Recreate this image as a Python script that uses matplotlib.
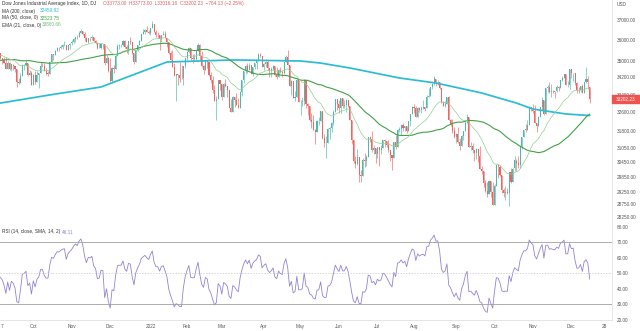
import numpy as np
import pandas as pd
import matplotlib
matplotlib.use("Agg")
import matplotlib.pyplot as plt
from matplotlib.patches import Rectangle

plt.rcParams['font.family'] = ['Liberation Sans', 'DejaVu Sans']

# trading calendar (NYSE holidays inside the window)
holidays = ['2021-11-25', '2021-12-24', '2022-01-17', '2022-02-21', '2022-04-15',
            '2022-05-30', '2022-06-20', '2022-07-04', '2022-09-05', '2022-11-24',
            '2022-12-26']
dates = pd.bdate_range('2021-09-07', '2022-12-30', freq='C', holidays=holidays)

# closes before the visible window, only used to warm up the indicators
warmup_close = [
    34394, 34300, 34034, 33823, 33290, 33877, 33946, 33874, 34196, 34434, 34283, 34292, 34503,
    34633, 34786, 34577, 34681, 34421, 34870, 34996, 34889, 34933, 34987, 34688, 33962, 34512,
    34798, 34823, 35062, 35144, 35059, 34930, 35085, 34935,
    34838, 35117, 34793, 35065, 35209, 35102, 35265, 35485, 35500, 35515, 35626, 35343, 34961,
    34894, 35120, 35336, 35367, 35406, 35214, 35456, 35400, 35361,
    35312, 35443, 35369,
]

opens = [
    35370, 35100, 35030, 34880, 34610, 34870, 34580, 34810, 34750, 34580, 33970, 33920, 34260, 34770, 34800, 34870, 34300, 34390,
    33840, 34330, 34000, 34320, 34420, 34760, 34750, 34500, 34380, 34380, 34910, 35300, 35260, 35460, 35610, 35600, 35680, 35740, 35760, 35490, 35730,
    35830, 35910, 36050, 36160, 36130, 36330, 36430, 36320, 36080, 35920, 36100, 36090, 36140, 35930, 35870, 35600, 35620, 35810, 35800, 34900, 35140,
    34480, 34020, 34640, 34580, 35230, 35720, 35750, 35760, 35970, 35650, 35540, 35930, 35900, 35370, 34930, 35490, 35750, 35950, 36300, 36400, 36490, 36400,
    36340, 36590, 36800, 36410, 36240, 36230, 36070, 36250, 36290, 36110, 35910, 35370, 35030, 34710, 34260, 34360, 34300, 34170, 34160, 34730,
    35130, 35410, 35630, 35110, 35090, 35090, 35460, 35770, 35240, 34740, 34570, 34990, 34930, 34310, 34080, 33600, 33130, 33220, 34060,
    33890, 33300, 33890, 33800, 33620, 32820, 32630, 33290, 33170, 32950, 32820, 33540, 34060, 34480, 34750, 34550, 34810, 34360, 34710, 34860, 34960, 35290, 35230,
    34680, 34820, 34920, 34640, 34500, 34580, 34720, 34310, 34220, 34560, 34450, 34410, 34910, 35160, 34790, 33810, 34050, 33240, 33300, 34100,
    33060, 33060, 33130, 34060, 33000, 32900, 32250, 32160, 31830, 31730, 32200, 32220, 32650, 31490, 31250, 31260, 31880, 31930, 32120, 32640, 33210,
    32990, 32810, 33250, 32900, 32920, 33180, 32910, 32270, 31390, 30520, 30370, 30670, 29930, 29890, 30530, 30480, 30680, 31500, 31440, 30950, 31030,
    30780, 31100, 30970, 31040, 31390, 31340, 31170, 30980, 30770, 30630, 31290, 31070, 31830, 31880, 32040, 31900, 31990, 31760, 32200, 32530,
    32850, 32800, 32400, 32810, 32730, 32800, 32830, 32780, 33310, 33340, 33760, 33910, 34150, 33980, 34000, 33710, 33060, 32910, 32970, 33290, 32280, 32100, 31790,
    31510, 31660, 31320, 31150, 31580, 31770, 32150, 32380, 31100, 31130, 30960, 30820, 31020, 30710, 30180, 30080, 29590, 29260, 29140, 29680, 29230,
    28730, 29490, 30320, 30270, 29930, 29300, 29200, 29240, 29210, 30040, 29640, 30190, 30520, 30420, 30330, 31080, 31500, 31840, 31840, 32030, 32860,
    32730, 32650, 32150, 32000, 32400, 32830, 33160, 32510, 33720, 33750, 33540, 33590, 33550, 33550, 33750, 33700, 34100, 34190, 34350, 33850, 33850,
    34590, 34400, 34430, 33950, 33600, 33600, 33780, 33480, 34010, 34110, 33773,
]

highs = [
    35370, 35110, 35170, 35150, 34990, 34950, 34840, 34820, 34750, 34580, 34170, 34390, 34830, 34830, 35010, 34870, 34570, 34500,
    34380, 34480, 34480, 34420, 34940, 34890, 34880, 34640, 34480, 34930, 35300, 35300, 35500, 35670, 35650, 35770, 35800, 35950, 35760, 35740, 35830,
    35980, 36080, 36160, 36260, 36470, 36570, 36460, 36380, 36130, 36110, 36170, 36240, 36160, 35990, 35900, 35850, 35840, 35820, 35800, 35260, 35160,
    35140, 34700, 34800, 35300, 35780, 35810, 35790, 35980, 36010, 35770, 35940, 36130, 35900, 35370, 35520, 35770, 35980, 36310, 36530, 36570, 36680, 36480,
    36600, 36950, 36820, 36510, 36380, 36230, 36260, 36440, 36450, 36110, 35910, 35480, 35510, 34880, 34380, 34370, 34940, 34770, 34740, 35140,
    35440, 35660, 35630, 35320, 35330, 35480, 35830, 35820, 35460, 34800, 35010, 34990, 34930, 34460, 34250, 33850, 33320, 34070, 34060,
    33890, 33950, 34150, 33800, 33620, 33200, 33330, 33290, 33500, 33230, 33560, 34100, 34490, 34780, 34900, 34860, 34810, 34710, 34870, 34960, 35370, 35370, 35230,
    34870, 34960, 35050, 34640, 34680, 34800, 34720, 34700, 34610, 34680, 34530, 34940, 35290, 35490, 34790, 34070, 34050, 33560, 34130, 34100,
    33150, 33300, 34120, 34060, 33010, 32900, 32590, 32500, 31880, 32270, 32380, 32660, 32650, 31660, 31570, 31920, 31970, 32190, 32700, 33210, 33210,
    33150, 33250, 33250, 33160, 33200, 33180, 32910, 32270, 31390, 30700, 31000, 30670, 30140, 30640, 30840, 30760, 31510, 31580, 31760, 31190, 31030,
    31100, 31100, 31190, 31400, 31430, 31340, 31370, 30980, 30770, 31310, 31600, 31850, 31970, 32060, 32150, 32010, 32000, 32230, 32550, 32900,
    32990, 32870, 32830, 32850, 32910, 33150, 32860, 33370, 33710, 33770, 33930, 34280, 34150, 34070, 34000, 33710, 33130, 33100, 33300, 33350, 32290, 32300, 31970,
    31680, 31940, 31460, 31610, 31800, 32200, 32510, 32380, 31320, 31260, 30960, 31030, 31020, 31120, 30290, 30080, 29730, 29640, 29720, 29680, 29620,
    29550, 30340, 30320, 30350, 29930, 29400, 29480, 29400, 30040, 30210, 30220, 30700, 30580, 30730, 31120, 31540, 31840, 32070, 32260, 32870, 32860,
    33000, 32930, 32150, 32430, 32850, 33300, 33160, 33720, 33840, 33990, 33880, 33600, 33570, 33860, 33800, 34100, 34250, 34360, 34350, 34020, 34590,
    34600, 34430, 34430, 34010, 33770, 33800, 33900, 34010, 34710, 34250, 33773,
]

lows = [
    35070, 34850, 34870, 34600, 34610, 34540, 34480, 34550, 34440, 33740, 33880, 33920, 34260, 34570, 34730, 34260, 34300, 33840,
    33840, 33910, 34000, 33690, 34420, 34680, 34480, 34330, 34270, 34380, 34910, 35050, 35260, 35460, 35450, 35580, 35570, 35710, 35490, 35490, 35540,
    35730, 35850, 35900, 36040, 36130, 36330, 36240, 35970, 35900, 35850, 35940, 36010, 35920, 35780, 35560, 35600, 35550, 35550, 34790, 34900, 34450,
    34010, 34010, 34410, 34580, 35230, 35560, 35650, 35700, 35620, 35370, 35340, 35810, 35300, 34820, 34930, 35440, 35750, 35950, 36300, 36300, 36390, 36300,
    36250, 36590, 36400, 36160, 36120, 35520, 35900, 36240, 36080, 35680, 35330, 35010, 34690, 34260, 33100, 33850, 34010, 34110, 33850, 34640,
    35040, 35370, 35050, 34900, 35030, 34980, 35460, 35000, 34680, 34340, 34570, 34650, 34280, 33950, 33480, 33130, 32270, 33220, 33630,
    33150, 33300, 33750, 33290, 32810, 32630, 32630, 32850, 32920, 32780, 32820, 33350, 33940, 34360, 34410, 34550, 34350, 34260, 34590, 34620, 34960, 35160, 34680,
    34550, 34680, 34540, 34240, 34200, 34540, 34280, 34150, 34220, 34410, 34230, 34380, 34910, 34770, 33800, 33370, 33230, 33130, 33300, 33050,
    32500, 32900, 32920, 32800, 32500, 32220, 31900, 31830, 31230, 31730, 32050, 32220, 31450, 31100, 30640, 31260, 31440, 31750, 32050, 32640, 32720,
    32570, 32590, 32800, 32800, 32600, 32860, 32270, 31210, 30400, 30190, 30340, 29650, 29650, 29890, 30250, 30280, 30680, 31300, 30900, 30810, 30430,
    30640, 30300, 30800, 31040, 31100, 31080, 30900, 30500, 30140, 30630, 31020, 31070, 31730, 31610, 31800, 31760, 31700, 31760, 31990, 32530,
    32590, 32380, 32400, 32640, 32560, 32760, 32650, 32780, 33300, 33340, 33640, 33860, 33800, 33870, 33640, 33040, 32880, 32850, 32970, 32280, 31990, 31700, 31480,
    31250, 31250, 30980, 31150, 31380, 31770, 32150, 31090, 30950, 30850, 30500, 30570, 30460, 30180, 29960, 29440, 29240, 29050, 29140, 29030, 28720,
    28730, 29490, 29800, 29900, 29200, 29030, 28910, 29170, 28660, 29600, 29640, 30100, 30100, 30230, 30210, 31000, 31500, 31730, 31830, 32030, 32660,
    32560, 32140, 31730, 31990, 32380, 32720, 32500, 32510, 33520, 33500, 33300, 33460, 33240, 33510, 33590, 33700, 34040, 34190, 33830, 33760, 33680,
    34190, 34050, 33860, 33460, 33480, 33530, 33470, 33480, 33940, 33680, 33016.16,
]

closes = [
    35100, 35031, 34879, 34607, 34870, 34578, 34814, 34751, 34584, 33970, 33919, 34258, 34765, 34798, 34870, 34300, 34390, 33844,
    34326, 34002, 34315, 34417, 34755, 34746, 34496, 34378, 34377, 34912, 35295, 35259, 35458, 35609, 35603, 35677, 35741, 35757, 35490, 35731, 35820,
    35913, 36053, 36158, 36124, 36328, 36432, 36320, 36080, 35921, 36100, 36087, 36142, 35931, 35871, 35602, 35619, 35814, 35804, 34899, 35136, 34484,
    34022, 34640, 34580, 35227, 35719, 35754, 35755, 35971, 35651, 35544, 35927, 35898, 35365, 34932, 35493, 35754, 35951, 36302, 36398, 36488, 36398, 36338,
    36585, 36800, 36408, 36236, 36232, 36069, 36252, 36290, 36114, 35912, 35369, 35029, 34715, 34265, 34365, 34298, 34168, 34161, 34725, 35132,
    35405, 35630, 35111, 35090, 35092, 35463, 35768, 35242, 34739, 34567, 34989, 34935, 34312, 34079, 33597, 33132, 33224, 34059, 33893,
    33295, 33891, 33795, 33615, 32818, 32633, 33286, 33174, 32945, 32818, 33545, 34063, 34481, 34755, 34553, 34808, 34359, 34708, 34862, 34956, 35294, 35229, 34678,
    34818, 34922, 34641, 34497, 34584, 34721, 34308, 34220, 34565, 34451, 34412, 34911, 35161, 34793, 33811, 34049, 33240, 33302, 34098, 33061,
    33062, 33129, 34061, 32998, 32899, 32246, 32161, 31834, 31730, 32197, 32223, 32655, 31490, 31254, 31262, 31880, 31929, 32120, 32637, 33213, 32990,
    32813, 33248, 32900, 32916, 33180, 32910, 32273, 31393, 30517, 30365, 30669, 29927, 29889, 30530, 30484, 30677, 31501, 31439, 30947, 31029, 30775,
    31097, 30968, 31037, 31385, 31338, 31174, 30982, 30773, 30630, 31289, 31073, 31828, 31875, 32036, 31899, 31990, 31762, 32198, 32530, 32845,
    32798, 32397, 32813, 32727, 32803, 32833, 32775, 33310, 33337, 33761, 33913, 34152, 33981, 33999, 33707, 33064, 32910, 32970, 33292, 32283, 32099, 31791, 31510,
    31656, 31319, 31146, 31581, 31775, 32152, 32381, 31105, 31135, 30962, 30822, 31020, 30706, 30184, 30077, 29590, 29261, 29135, 29684, 29226, 28726,
    29491, 30317, 30274, 29927, 29297, 29203, 29240, 29211, 30039, 29635, 30186, 30524, 30424, 30334, 31083, 31500, 31837, 31839, 32034, 32862, 32733,
    32653, 32148, 32001, 32403, 32827, 33161, 32514, 33716, 33748, 33537, 33593, 33554, 33547, 33746, 33700, 34098, 34195, 34347, 33850, 33853, 34590,
    34395, 34430, 33947, 33597, 33598, 33781, 33477, 34006, 34108, 33966, 33202.23,
]

# MA 200 (bar index, value)
ma200_idx = [0, 27, 55, 91, 127, 164, 175, 191, 218, 238, 263, 282, 291, 309, 322]
ma200_val = [33020, 33390, 33755, 34930, 35030, 34980, 34880, 34645, 34175, 33940,
             33480, 33020, 32750, 32530, 32460]

price_ticks = [37000, 36000, 35000, 34200, 33400, 32600, 31800, 31050, 30450,
               29850, 29250, 28750, 28250]
rsi_ticks = [20, 30, 40, 50, 60, 70, 80]

UP = '#4cb8ab'
DOWN = '#ee6462'

n = len(closes)
x = np.arange(n)
o = np.array(opens, float)
h = np.array(highs, float)
l = np.array(lows, float)
c = np.array(closes, float)

allc = pd.Series(warmup_close + closes, dtype=float)
w = len(warmup_close)
ema21 = allc.ewm(span=21, adjust=False).mean().values[w:]
ma50 = allc.rolling(50).mean().values[w:]
d = allc.diff().fillna(0)
gain = d.clip(lower=0).ewm(alpha=1 / 14, adjust=False).mean()
loss = (-d).clip(lower=0).ewm(alpha=1 / 14, adjust=False).mean()
rsi = (100 - 100 / (1 + gain / loss)).values[w:]

fig = plt.figure(figsize=(6.4, 3.31), dpi=100)
W, H = 640.0, 331.0
right = 612 / W
ax = fig.add_axes([0, 1 - 225 / H, right, 225 / H])
ax2 = fig.add_axes([0, 1 - 320 / H, right, 95 / H], sharex=ax)

# candles
cols = np.where(c >= o, UP, DOWN)
ax.vlines(x, l, h, colors=cols, lw=0.45)
body = np.maximum(np.abs(c - o), 10)
ax.bar(x, body, bottom=np.minimum(o, c), width=0.58, color=cols, linewidth=0)

ax.plot(ma200_idx, ma200_val, color='#2bbcd4', lw=1.25, solid_capstyle='round')
ax.plot(x, ma50, color='#43a047', lw=0.8)
ax.plot(x, ema21, color='#8fcf8f', lw=0.5)

ax.set_yscale('log')
ax.set_ylim(27940, 38028)
ax.set_xlim(-0.2, 334.2)
ax.minorticks_off()
ax.set_yticks(price_ticks)
ax.set_yticklabels(['%.2f' % v for v in price_ticks])
ax.yaxis.tick_right()
ax.tick_params(axis='y', length=0, pad=3.5, labelsize=3.4, labelcolor='#555555')
ax.tick_params(axis='x', length=0, labelbottom=False)
for s in ['top', 'left']:
    ax.spines[s].set_visible(False)
ax.spines['right'].set_color('#e3e3e3')
ax.spines['right'].set_linewidth(0.6)
ax.spines['bottom'].set_color('#ececec')
ax.spines['bottom'].set_linewidth(0.6)

# RSI panel
ax2.plot(x, rsi, color='#8f86d0', lw=0.6)
ax2.axhline(70, color='#a0a0a0', lw=0.6)
ax2.axhline(30, color='#a0a0a0', lw=0.6)
ax2.axhline(50, color='#c4c4c4', lw=0.5, ls=(0, (2, 2)))
ax2.set_ylim(19.7, 81)
ax2.set_yticks(rsi_ticks)
ax2.set_yticklabels(['%.2f' % v for v in rsi_ticks])
ax2.yaxis.tick_right()
ax2.tick_params(axis='y', length=0, pad=3.5, labelsize=3.4, labelcolor='#555555')
for s in ['top', 'left']:
    ax2.spines[s].set_visible(False)
ax2.spines['right'].set_color('#e3e3e3')
ax2.spines['right'].set_linewidth(0.6)
ax2.spines['bottom'].set_color('#e0e0e0')
ax2.spines['bottom'].set_linewidth(0.6)

# month ticks
tick_pos = [0.8]
tick_lab = ['7']
for i in range(1, len(dates)):
    if dates[i].month != dates[i - 1].month:
        tick_pos.append(i)
        tick_lab.append('2022' if dates[i].month == 1 else dates[i].strftime('%b'))
tick_pos.append(list(dates).index(pd.Timestamp('2022-12-28')))
tick_lab.append('28')
ax2.set_xticks(tick_pos)
ax2.set_xticklabels(tick_lab)
ax2.tick_params(axis='x', length=0, pad=3, labelsize=3.4, labelcolor='#555555')

# legend texts
def ftext(px, py, s, color, **kw):
    fig.text(px / W, 1 - py / H, s, color=color, fontsize=3.4, va='center', ha='left', **kw)

ftext(2, 4, 'Dow Jones Industrial Average Index, 1D, DJ', '#333333')
ftext(103, 4, 'O33773.00  H33773.00  L33016.16  C33202.23  \u2212764.13 (\u22122.25%)', '#e35d5b')
ftext(2, 11, 'MA (200, close)', '#333333')
ftext(40, 11, '32459.92', '#2bbcd4')
ftext(2, 18, 'MA (50, close, 0)', '#333333')
ftext(40, 18, '32523.75', '#43a047')
ftext(2, 25, 'EMA (21, close, 0)', '#333333')
ftext(42, 25, '33660.66', '#6cbf6c')
ftext(2, 232, 'RSI (14, close, SMA, 14, 2)', '#333333')
ftext(62, 232, '46.11', '#8f86d0')
ftext(617, 4, 'USD', '#555555')

# last price tag
fig.patches.append(Rectangle((612 / W, 1 - 103 / H), 28 / W, 8 / H,
                             transform=fig.transFigure, color='#ef5350', zorder=5))
fig.text(626 / W, 1 - 99 / H, '33202.23', color='white', fontsize=3.4,
         ha='center', va='center', zorder=6)

fig.savefig('out.png', dpi=100)
